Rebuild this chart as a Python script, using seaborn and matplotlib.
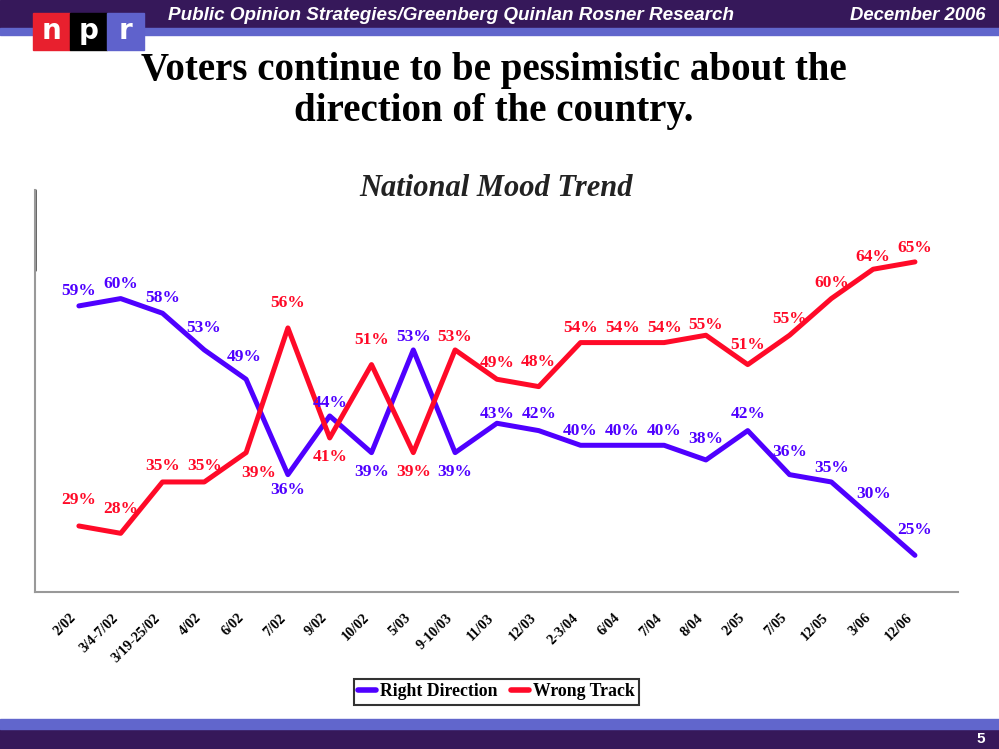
import pandas as pd
import matplotlib.pyplot as plt
import seaborn as sns
from matplotlib.patches import Rectangle

# Dữ liệu
waves = ['2/02', '3/4-7/02', '3/19-25/02', '4/02', '6/02', '7/02', '9/02', '10/02',
         '5/03', '9-10/03', '11/03', '12/03', '2-3/04', '6/04', '7/04', '8/04',
         '2/05', '7/05', '12/05', '3/06', '12/06']
right_direction = [59, 60, 58, 53, 49, 36, 44, 39, 53, 39, 43, 42, 40, 40, 40, 38, 42, 36, 35, 30, 25]
wrong_track = [29, 28, 35, 35, 39, 56, 41, 51, 39, 53, 49, 48, 54, 54, 54, 55, 51, 55, 60, 64, 65]

# label offsets (pixels) for each point
rd_offsets = [(0, 15), (0, 15), (0, 15), (-1, 22), (-2, 22), (0, -15), (0, 13), (0, -19),
              (0, 13), (0, -19), (0, 9), (0, 17), (0, 14), (0, 14), (0, 14), (0, 21),
              (0, 17), (0, 23), (0, 14), (0, 25), (0, 25)]
wt_offsets = [(0, 26), (0, 24), (0, 16), (0, 16), (13, -20), (0, 25), (0, -19), (0, 25),
              (0, -19), (0, 13), (0, 16), (0, 25), (0, 15), (0, 15), (0, 15), (0, 10),
              (0, 20), (0, 16), (0, 16), (0, 12), (0, 14)]

BLUE = '#4f00ff'
RED = '#ff0a28'
DARK = '#36185a'
BAND = '#6166cc'

df = pd.DataFrame({
    'idx': list(range(len(waves))) * 2,
    'value': right_direction + wrong_track,
    'Series': ['Right Direction'] * len(waves) + ['Wrong Track'] * len(waves),
})

sns.set_theme(style='white')
plt.rcParams['font.family'] = ['Liberation Serif', 'DejaVu Serif']
plt.rcParams['text.color'] = 'black'

fig = plt.figure(figsize=(9.99, 7.49), dpi=100)
ax = fig.add_axes([35 / 999, 1 - 592 / 749, 923 / 999, 402 / 749])

sns.lineplot(data=df, x='idx', y='value', hue='Series',
             palette={'Right Direction': BLUE, 'Wrong Track': RED},
             linewidth=3.6, ax=ax, legend=False)

for vals, offs, col in [(right_direction, rd_offsets, BLUE), (wrong_track, wt_offsets, RED)]:
    for i, v in enumerate(vals):
        ax.annotate(f'{v}%', (i, v), xytext=offs[i], textcoords='offset pixels',
                    ha='center', va='center', fontsize=12.5, fontweight='bold', color=col)

ax.set_xlim(-1.05, 21.03)
ax.set_ylim(20, 74.8)
ax.set_xticks(range(len(waves)))
ax.set_xticklabels(waves, rotation=45, ha='right', va='top', fontsize=10.3,
                   fontweight='bold', color='black')
ax.set_yticks([])
ax.tick_params(axis='x', length=0, pad=14)
ax.set_xlabel('')
ax.set_ylabel('')
for s in ['top', 'right']:
    ax.spines[s].set_visible(False)
for s in ['left', 'bottom']:
    ax.spines[s].set_color('#999999')
    ax.spines[s].set_linewidth(1.5)
ax.plot([0, 0], [0.8, 1.0], transform=ax.transAxes, color='#555555', lw=2, clip_on=False)

# legend
handles = [plt.Line2D([], [], color=BLUE, lw=4), plt.Line2D([], [], color=RED, lw=4)]
leg = fig.legend(handles, ['Right Direction', 'Wrong Track'], loc='center',
                 bbox_to_anchor=(0.497, 1 - 692 / 749), ncol=2, frameon=True,
                 fancybox=False, edgecolor='black', handlelength=1.0, handletextpad=0.2,
                 columnspacing=0.8, borderpad=0.25,
                 prop={'family': 'Liberation Serif', 'weight': 'bold', 'size': 12.8})
leg.get_frame().set_linewidth(1.5)
for t in leg.get_texts():
    t.set_color('black')

# title and subtitle
fig.text(0.494, 1 - 91 / 749, 'Voters continue to be pessimistic about the\ndirection of the country.',
         ha='center', va='center', fontsize=28, fontweight='bold', linespacing=1.13, color='black')
fig.text(0.497, 1 - 189 / 749, 'National Mood Trend', ha='center', va='center',
         fontsize=22, fontweight='bold', fontstyle='italic', color='#222222')

# header / footer bars
fig.patches.append(Rectangle((0, 1 - 28 / 749), 1, 28 / 749, transform=fig.transFigure, color=DARK, zorder=0))
fig.patches.append(Rectangle((0, 1 - 35 / 749), 1, 7 / 749, transform=fig.transFigure, color=BAND, zorder=0))
fig.patches.append(Rectangle((0, 0), 1, 20 / 749, transform=fig.transFigure, color=DARK, zorder=0))
fig.patches.append(Rectangle((0, 20 / 749), 1, 10 / 749, transform=fig.transFigure, color=BAND, zorder=0))

# npr logo
for k, (letter, col) in enumerate([('n', '#e8202e'), ('p', '#000000'), ('r', '#5f62cc')]):
    x0 = (33 + 37 * k) / 999
    fig.patches.append(Rectangle((x0, 1 - 50 / 749), 37 / 999, 37 / 749,
                                 transform=fig.transFigure, color=col, zorder=1))
    fig.text(x0 + 18.5 / 999, 1 - 31 / 749, letter, ha='center', va='center', color='white',
             fontsize=20, fontweight='bold', family='DejaVu Sans')

fig.text(168 / 999, 1 - 15 / 749, 'Public Opinion Strategies/Greenberg Quinlan Rosner Research',
         ha='left', va='center', color='white', fontsize=13.6, fontweight='bold',
         fontstyle='italic', family='Liberation Sans')
fig.text(985 / 999, 1 - 15 / 749, 'December 2006', ha='right', va='center', color='white',
         fontsize=13.3, fontweight='bold', fontstyle='italic', family='Liberation Sans')
fig.text(985 / 999, 10 / 749, '5', ha='right', va='center', color='white',
         fontsize=11, fontweight='bold', family='Liberation Sans')

plt.savefig('out.png', dpi=100)
plt.close()
